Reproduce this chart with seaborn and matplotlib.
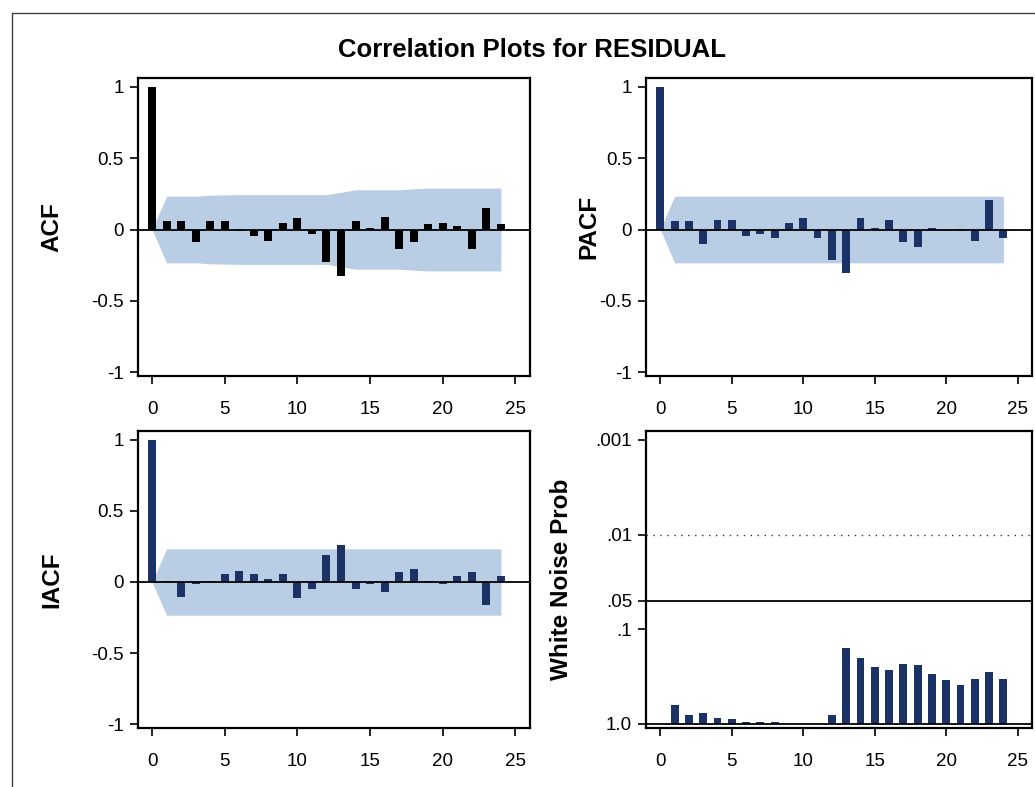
import numpy as np
import pandas as pd
import matplotlib
matplotlib.use("Agg")
import matplotlib.pyplot as plt
import seaborn as sns
from matplotlib.lines import Line2D

# ---------------- data ----------------
lags = list(range(0, 25))
acf = [1.0, 0.056, 0.056, -0.088, 0.056, 0.056, -0.010, -0.042, -0.079, 0.046,
       0.079, -0.032, -0.225, -0.327, 0.056, 0.012, 0.090, -0.135, -0.088, 0.035,
       0.046, 0.023, -0.135, 0.148, 0.035]
acf_band = [0.0, 0.233, 0.233, 0.233, 0.240, 0.242, 0.244, 0.244, 0.244, 0.244,
            0.244, 0.244, 0.244, 0.260, 0.278, 0.278, 0.278, 0.278, 0.285, 0.290,
            0.290, 0.290, 0.290, 0.290, 0.290]
pacf = [1.0, 0.056, 0.056, -0.100, 0.067, 0.067, -0.042, -0.032, -0.056, 0.046,
        0.079, -0.056, -0.213, -0.304, 0.079, 0.012, 0.067, -0.088, -0.123, 0.012,
        -0.010, 0.003, -0.079, 0.204, -0.056]
pacf_band = [0.0] + [0.233] * 24
iacf = [1.0, 0.009, -0.102, -0.012, 0.009, 0.056, 0.077, 0.056, 0.021, 0.056,
        -0.114, -0.047, 0.193, 0.258, -0.047, -0.012, -0.070, 0.067, 0.088, 0.009,
        -0.012, 0.044, 0.067, -0.160, 0.044]
iacf_band = [0.0] + [0.233] * 24
wn_lags = list(range(1, 25))
wn_p = [0.63, 0.80, 0.77, 0.86, 0.90, 0.97, 0.97, 0.97, 1.0, 1.0, 1.0, 0.80,
        0.158, 0.20, 0.254, 0.271, 0.234, 0.242, 0.297, 0.346, 0.391, 0.333,
        0.284, 0.333]
wn_ticks = [0.001, 0.01, 0.05, 0.1, 1.0]
wn_ticklabels = [".001", ".01", ".05", ".1", "1.0"]
corr_ticks = [-1, -0.5, 0, 0.5, 1]
corr_ticklabels = ["-1", "-0.5", "0", "0.5", "1"]
x_ticks = [0, 5, 10, 15, 20, 25]

title = "Correlation Plots for RESIDUAL"

# ---------------- style ----------------
sns.set_theme(style="white")
plt.rcParams["font.family"] = ["Liberation Sans", "DejaVu Sans"]

NAVY = "#1A3265"
BAND = "#B9CDE5"
W, H = 1035, 787

fig = plt.figure(figsize=(W / 100, H / 100), dpi=100)


def px_axes(l, t, r, b):
    return fig.add_axes([l / W, 1 - b / H, (r - l) / W, (b - t) / H])


def style(ax):
    for s in ax.spines.values():
        s.set_color("black")
        s.set_linewidth(1.6)
    ax.tick_params(axis="both", which="both", bottom=True, left=True,
                   direction="out", length=6, width=1.2, color="black",
                   labelcolor="black", labelsize=13.5)
    ax.tick_params(axis="x", pad=12)
    ax.tick_params(axis="y", pad=4)
    ax.set_xlim(-1, 26)
    ax.set_xticks(x_ticks)
    ax.set_xticklabels([str(t) for t in x_ticks])
    ax.set_xlabel("")


def corr_panel(ax, vals, band, color, label, label_x):
    ax.fill_between(lags, [-b for b in band], band, color=BAND, lw=0, zorder=1)
    df = pd.DataFrame({"lag": lags, "val": vals})
    sns.barplot(data=df, x="lag", y="val", native_scale=True, width=0.55,
                color=color, saturation=1, edgecolor="none", linewidth=0,
                ax=ax, zorder=2)
    ax.axhline(0, color="black", lw=1.3, zorder=3)
    style(ax)
    ax.set_ylim(-1.025, 1.06)
    ax.set_yticks(corr_ticks)
    ax.set_yticklabels(corr_ticklabels)
    ax.set_ylabel(label, fontsize=17.5, fontweight="bold", color="black")
    ax.yaxis.set_label_coords(label_x, 0.5)


ax1 = px_axes(137.5, 78, 530, 376)
corr_panel(ax1, acf, acf_band, "black", "ACF", -0.19)

ax2 = px_axes(646, 78, 1032, 376)
corr_panel(ax2, pacf, pacf_band, NAVY, "PACF", -0.117)

ax3 = px_axes(137.5, 431, 530, 728)
corr_panel(ax3, iacf, iacf_band, NAVY, "IACF", -0.19)

ax4 = px_axes(646, 431, 1032, 728)
wn_df = pd.DataFrame({"lag": wn_lags, "nlogp": [-np.log10(p) for p in wn_p]})
sns.barplot(data=wn_df, x="lag", y="nlogp", native_scale=True, width=0.55,
            color=NAVY, saturation=1, edgecolor="none", linewidth=0,
            ax=ax4, zorder=2)
ax4.axhline(-np.log10(1.0), color="black", lw=1.3, zorder=3)
ax4.axhline(-np.log10(0.05), color="black", lw=1.3, zorder=3)
ax4.axhline(-np.log10(0.01), color="#333333", lw=1.0, ls=(0, (1, 4)), zorder=3)
style(ax4)
ax4.set_ylim(-0.045, 3.094)
ax4.set_yticks([-np.log10(t) for t in wn_ticks])
ax4.set_yticklabels(wn_ticklabels)
ax4.set_ylabel("White Noise Prob", fontsize=17.5, fontweight="bold", color="black")
ax4.yaxis.set_label_coords(-0.19, 0.5)

fig.text(532 / W, 1 - 50 / H, title, ha="center", va="center",
         fontsize=18.5, fontweight="bold", color="black")

# outer frame (cropped at right / bottom)
fig.add_artist(Line2D([12 / W, 12 / W], [0, 1 - 13 / H], transform=fig.transFigure,
                      color="#404040", lw=1.0))
fig.add_artist(Line2D([12 / W, 1], [1 - 13 / H, 1 - 13 / H], transform=fig.transFigure,
                      color="#404040", lw=1.0))

fig.savefig("out.png", dpi=100, facecolor="white")
